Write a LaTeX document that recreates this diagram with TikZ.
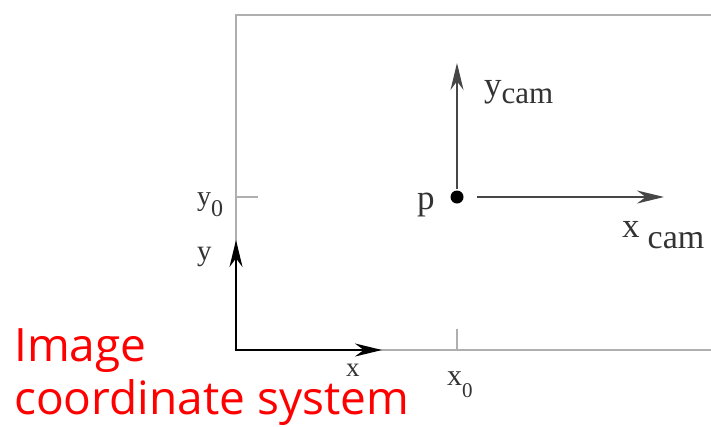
\documentclass[tikz,border=0pt]{standalone}
\usepackage{fontspec}
\setmainfont{Liberation Serif}
\newfontfamily\rotulo{Open Sans}
\usepackage{xcolor}
\usetikzlibrary{arrows.meta,positioning,calc}
\definecolor{okvirsiva}{RGB}{175,175,175}
\definecolor{osasiva}{RGB}{70,70,70}
\definecolor{natpiscrvena}{RGB}{255,0,0}
\newcommand{\vel}[1]{\fontsize{#1}{#1}\selectfont}

\begin{document}
\begin{tikzpicture}[
    x=1pt,y=-1pt,
    okvir/.style={draw=okvirsiva,line width=2.6pt},
    osa/.style={line width=2.8pt,-{Stealth[length=27pt,width=13pt]}},
    kamosa/.style={line width=2pt,draw=osasiva,-{Stealth[length=27pt,width=13pt]}},
    crtica/.style={draw=okvirsiva,line width=2.2pt},
    oznaka/.style={inner sep=0pt,anchor=base west,text=black!80},
    natpis/.style={font=\rotulo\vel{46},text=natpiscrvena,inner sep=0pt,anchor=base west}
]
\useasboundingbox (0,0) rectangle (711,426);
\fill[white] (0,0) rectangle (711,426);

\coordinate (ogl) at (236,15);
\coordinate (ogd) at (711,15);
\coordinate (o) at (236,350);
\coordinate (odd) at (711,350);
\coordinate (xkraj) at (382,350);
\coordinate (ykraj) at (236,240);
\coordinate (yo) at (258,197);
\coordinate (yolevo) at (236,197);
\coordinate (xo) at (457,329);
\coordinate (xodole) at (457,350);
\coordinate (p) at (457,197);
\coordinate (ycamkraj) at (457,63);
\coordinate (xcampoc) at (477,197);
\coordinate (xcamkraj) at (664,197);

% okvir slike
\draw[okvir] (ogd) -- (ogl) -- (o) -- (odd);
\draw[crtica] (yolevo) -- (yo);
\draw[crtica] (xo) -- (xodole);

% ose slike
\draw[osa] ($(o)+(0,1.4)$) -- (ykraj);
\draw[osa] ($(o)+(-1.4,0)$) -- (xkraj);

% kamera
\fill (p) circle (6.5);
\draw[kamosa] ($(p)+(0,-8)$) -- (ycamkraj);
\draw[kamosa,line width=2.6pt] (xcampoc) -- (xcamkraj);

\node[oznaka,font=\vel{28}] (lyo) at (197,205) {y\raisebox{-11pt}{\vel{24}0}};
\node[oznaka,font=\vel{29}] (ly) at (197,260) {y};
\node[oznaka,font=\vel{27}] (lx) at (346,376) {x};
\node[oznaka,font=\vel{30}] (lxo) at (447,385) {x\raisebox{-12pt}{\vel{21}0}};
\node[oznaka,font=\vel{35}] (lp) at (417,209) {p};
\node[oznaka,font=\vel{35}] (lycam) at (484,96) {y\raisebox{-7pt}{\vel{31}cam}};
\node[oznaka,font=\vel{35}] (lxcam) at (622,237) {x\hspace{8pt}\raisebox{-11pt}{\vel{34}cam}};

\node[natpis] (slika) at (14,361) {Image};
\node[natpis] (sistem) at (14,414) {coordinate system};
\end{tikzpicture}
\end{document}
